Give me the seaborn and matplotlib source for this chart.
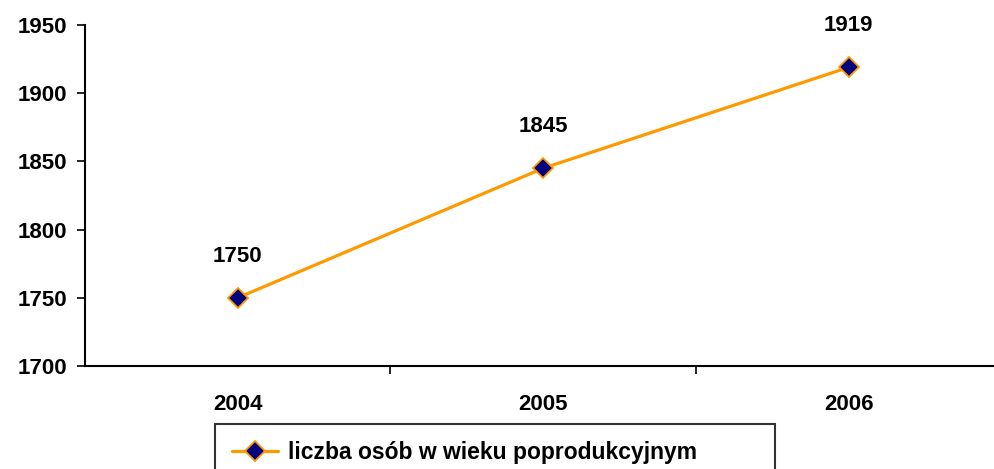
import matplotlib
matplotlib.use("Agg")
import matplotlib.pyplot as plt
from matplotlib.ticker import FixedLocator
import seaborn as sns
import pandas as pd

# --- data ---
years = ["2004", "2005", "2006"]
values = [1750, 1845, 1919]
series_name = "liczba osób w wieku poprodukcyjnym"
y_ticks = [1700, 1750, 1800, 1850, 1900, 1950]

sns.set_theme(style="white")
plt.rcParams["font.family"] = ["Liberation Sans", "DejaVu Sans"]
plt.rcParams["font.weight"] = "bold"
plt.rcParams["text.color"] = "black"
plt.rcParams["xtick.color"] = "black"
plt.rcParams["ytick.color"] = "black"

FS = 16

df = pd.DataFrame({"rok": years, "liczba": values})

fig = plt.figure(figsize=(9.94, 4.69), dpi=100)
ax = fig.add_axes([85 / 994, 103 / 469, 916.5 / 994, 341 / 469])

sns.lineplot(data=df, x="rok", y="liczba", ax=ax, color="#FF9900", linewidth=2.3,
             marker="D", markersize=13, markerfacecolor="#000080",
             markeredgecolor="#FF9900", markeredgewidth=1.3, label=series_name)

# data labels above points
for i, v in enumerate(values):
    ax.annotate(str(v), (i, v), xytext=(0, 30), textcoords="offset points",
                ha="center", va="center", fontsize=FS, fontweight="bold", color="black")

ax.set_xlim(-0.5, 2.5)
ax.set_ylim(1700, 1950)
ax.set_yticks(y_ticks)
ax.set_xticks(range(len(years)))
ax.set_xticklabels(years)
ax.xaxis.set_minor_locator(FixedLocator([0.5, 1.5, 2.5]))
ax.tick_params(axis="x", which="major", length=0, pad=20, labelsize=FS)
ax.tick_params(axis="x", which="minor", length=6, width=1.2, direction="out", bottom=True)
ax.tick_params(axis="y", length=6, width=1.2, direction="out", left=True, labelsize=FS, pad=7)
for lbl in ax.get_xticklabels() + ax.get_yticklabels():
    lbl.set_fontweight("bold")
ax.set_xlabel("")
ax.set_ylabel("")

for s in ["top", "right"]:
    ax.spines[s].set_visible(False)
for s in ["left", "bottom"]:
    ax.spines[s].set_color("black")
    ax.spines[s].set_linewidth(1.5)

ax.get_legend().remove()
handles, labels = ax.get_legend_handles_labels()
for h in handles:
    h.set_markersize(10)
leg = fig.legend(handles, labels, loc="upper left",
                 bbox_to_anchor=(215 / 994, 0, 560 / 994, 1 - 424 / 469), mode="expand",
                 frameon=True, fancybox=False, handlelength=2.0, handletextpad=0.45,
                 borderpad=0.75, borderaxespad=0, prop={"weight": "bold", "size": 16.5})
leg.get_frame().set_edgecolor("black")
leg.get_frame().set_linewidth(1.5)

fig.savefig("out.png", dpi=100)
